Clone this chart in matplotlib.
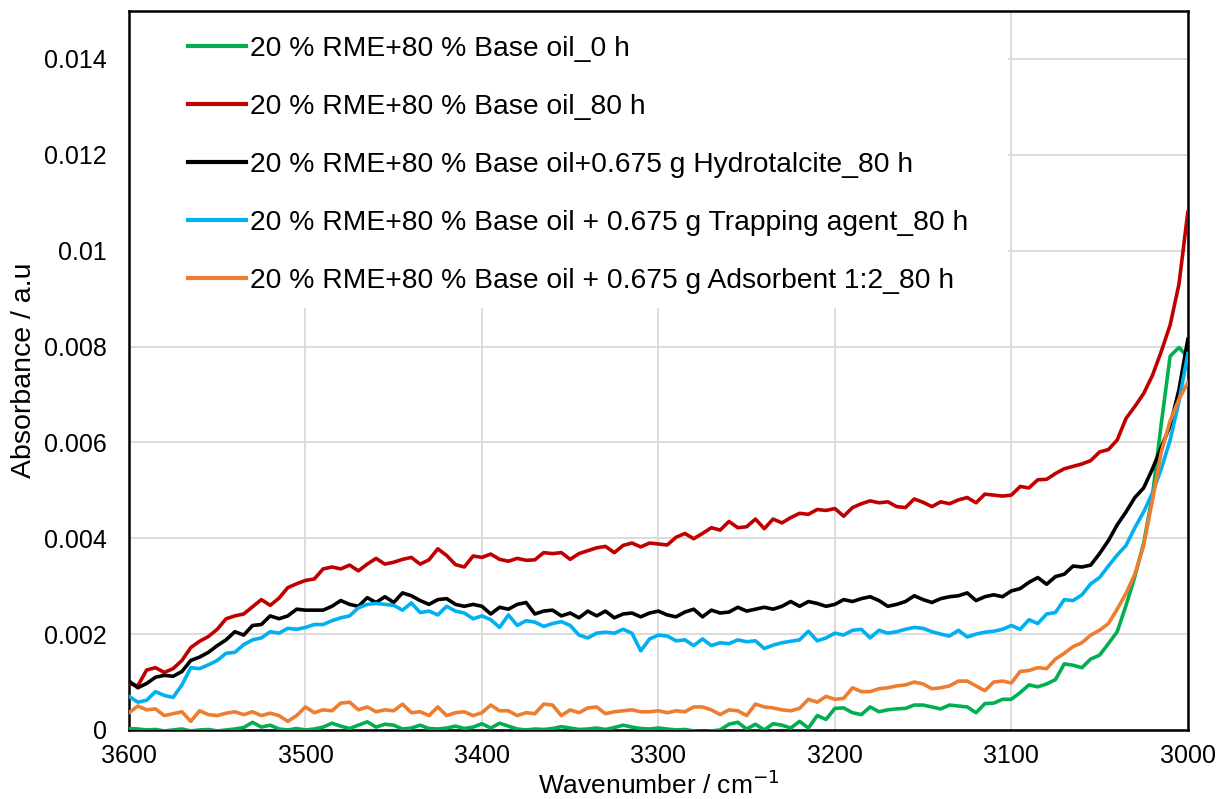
import numpy as np
import matplotlib
matplotlib.use("Agg")
import matplotlib.pyplot as plt
from matplotlib.patches import Rectangle
from matplotlib.ticker import FuncFormatter

plt.rcParams['font.family'] = ['Liberation Sans', 'DejaVu Sans']

# wavenumber grid of the exported spectra (cm-1), 5 cm-1 step
wavenumber = np.arange(3600, 2995, -5)

# absorbance values in 10^-3 a.u., rows of ten points = 50 cm-1
green_0h = np.array([
    0.03, 0.02, 0.00, 0.01, -0.02, 0.00, 0.02, -0.02, 0.00, 0.01,
    -0.02, 0.00, 0.02, 0.05, 0.16, 0.06, 0.10, 0.02, 0.00, 0.03,
    0.00, 0.02, 0.06, 0.14, 0.08, 0.03, 0.10, 0.17, 0.06, 0.12,
    0.10, 0.02, 0.04, 0.10, 0.03, 0.02, 0.04, 0.08, 0.03, 0.06,
    0.13, 0.04, 0.14, 0.08, 0.02, 0.00, 0.02, 0.01, 0.03, 0.07,
    0.04, 0.01, 0.02, 0.04, 0.01, 0.05, 0.10, 0.06, 0.03, 0.02,
    0.04, 0.02, 0.00, 0.01, -0.02, -0.05, -0.02, 0.00, 0.12, 0.16,
    0.02, 0.12, 0.00, 0.13, 0.10, 0.04, 0.18, 0.04, 0.30, 0.22,
    0.45, 0.46, 0.36, 0.32, 0.48, 0.38, 0.42, 0.44, 0.45, 0.52,
    0.52, 0.48, 0.44, 0.52, 0.50, 0.48, 0.36, 0.55, 0.56, 0.64,
    0.64, 0.78, 0.94, 0.90, 0.96, 1.05, 1.38, 1.35, 1.30, 1.48,
    1.56, 1.80, 2.05, 2.60, 3.20, 3.90, 4.90, 6.40, 7.80, 7.98,
    7.78])

red_80h = np.array([
    0.97, 0.92, 1.25, 1.30, 1.20, 1.28, 1.45, 1.72, 1.85, 1.95,
    2.10, 2.32, 2.38, 2.42, 2.57, 2.72, 2.60, 2.75, 2.97, 3.05,
    3.12, 3.15, 3.36, 3.40, 3.36, 3.44, 3.32, 3.46, 3.58, 3.46,
    3.50, 3.56, 3.60, 3.46, 3.55, 3.78, 3.64, 3.45, 3.40, 3.63,
    3.60, 3.67, 3.56, 3.52, 3.58, 3.54, 3.55, 3.70, 3.68, 3.70,
    3.56, 3.68, 3.74, 3.80, 3.83, 3.70, 3.85, 3.90, 3.82, 3.90,
    3.88, 3.86, 4.02, 4.10, 3.99, 4.10, 4.22, 4.17, 4.35, 4.22,
    4.24, 4.40, 4.20, 4.40, 4.32, 4.43, 4.52, 4.50, 4.60, 4.58,
    4.62, 4.46, 4.64, 4.72, 4.78, 4.74, 4.76, 4.66, 4.64, 4.82,
    4.75, 4.66, 4.76, 4.72, 4.80, 4.85, 4.74, 4.92, 4.90, 4.88,
    4.90, 5.08, 5.05, 5.22, 5.23, 5.35, 5.45, 5.50, 5.55, 5.62,
    5.80, 5.85, 6.05, 6.50, 6.75, 7.02, 7.40, 7.90, 8.45, 9.30,
    10.8])

black_hydrotalcite = np.array([
    1.02, 0.88, 0.97, 1.10, 1.14, 1.12, 1.22, 1.45, 1.52, 1.62,
    1.76, 1.88, 2.05, 1.98, 2.18, 2.20, 2.38, 2.32, 2.38, 2.52,
    2.50, 2.50, 2.50, 2.58, 2.70, 2.62, 2.58, 2.76, 2.66, 2.78,
    2.66, 2.86, 2.80, 2.70, 2.62, 2.72, 2.74, 2.62, 2.58, 2.62,
    2.58, 2.42, 2.56, 2.52, 2.62, 2.66, 2.42, 2.48, 2.50, 2.38,
    2.44, 2.34, 2.48, 2.38, 2.48, 2.34, 2.42, 2.44, 2.36, 2.44,
    2.48, 2.40, 2.36, 2.46, 2.52, 2.36, 2.50, 2.44, 2.46, 2.56,
    2.48, 2.52, 2.56, 2.52, 2.58, 2.68, 2.58, 2.68, 2.64, 2.58,
    2.62, 2.72, 2.68, 2.74, 2.78, 2.70, 2.58, 2.62, 2.68, 2.80,
    2.72, 2.66, 2.74, 2.78, 2.80, 2.86, 2.70, 2.78, 2.82, 2.78,
    2.90, 2.95, 3.08, 3.18, 3.04, 3.20, 3.25, 3.42, 3.40, 3.44,
    3.68, 3.95, 4.28, 4.55, 4.85, 5.05, 5.45, 5.90, 6.35, 7.10,
    8.15])

blue_trapping = np.array([
    0.70, 0.58, 0.62, 0.80, 0.72, 0.68, 0.94, 1.30, 1.28, 1.36,
    1.45, 1.60, 1.62, 1.78, 1.88, 1.92, 2.05, 2.02, 2.12, 2.10,
    2.14, 2.20, 2.20, 2.28, 2.34, 2.38, 2.55, 2.62, 2.64, 2.62,
    2.60, 2.50, 2.65, 2.45, 2.48, 2.40, 2.58, 2.48, 2.44, 2.32,
    2.38, 2.30, 2.14, 2.40, 2.18, 2.28, 2.25, 2.16, 2.22, 2.26,
    2.18, 1.98, 1.92, 2.02, 2.04, 2.02, 2.10, 2.02, 1.65, 1.90,
    1.98, 1.96, 1.86, 1.88, 1.76, 1.90, 1.76, 1.82, 1.80, 1.88,
    1.84, 1.86, 1.70, 1.77, 1.82, 1.85, 1.88, 2.06, 1.86, 1.92,
    2.02, 1.98, 2.08, 2.10, 1.92, 2.08, 2.02, 2.05, 2.10, 2.14,
    2.12, 2.05, 2.00, 1.96, 2.08, 1.94, 2.00, 2.04, 2.06, 2.10,
    2.18, 2.10, 2.30, 2.22, 2.42, 2.45, 2.72, 2.70, 2.82, 3.05,
    3.18, 3.42, 3.65, 3.85, 4.22, 4.55, 4.95, 5.45, 6.05, 6.85,
    7.85])

orange_adsorbent = np.array([
    0.36, 0.50, 0.42, 0.44, 0.30, 0.34, 0.38, 0.18, 0.40, 0.32,
    0.30, 0.35, 0.38, 0.32, 0.38, 0.30, 0.35, 0.30, 0.18, 0.30,
    0.48, 0.36, 0.42, 0.40, 0.56, 0.58, 0.42, 0.48, 0.38, 0.42,
    0.40, 0.54, 0.36, 0.38, 0.30, 0.48, 0.30, 0.36, 0.38, 0.30,
    0.36, 0.52, 0.40, 0.40, 0.30, 0.36, 0.34, 0.54, 0.52, 0.30,
    0.42, 0.36, 0.46, 0.48, 0.34, 0.38, 0.40, 0.42, 0.38, 0.38,
    0.40, 0.36, 0.40, 0.38, 0.48, 0.48, 0.42, 0.32, 0.42, 0.40,
    0.30, 0.54, 0.48, 0.46, 0.42, 0.40, 0.45, 0.64, 0.58, 0.70,
    0.64, 0.66, 0.88, 0.80, 0.80, 0.86, 0.88, 0.92, 0.94, 1.00,
    0.96, 0.86, 0.88, 0.92, 1.02, 1.02, 0.92, 0.82, 1.00, 1.02,
    0.98, 1.22, 1.24, 1.30, 1.28, 1.48, 1.60, 1.74, 1.82, 1.98,
    2.08, 2.22, 2.52, 2.85, 3.25, 3.85, 4.80, 5.80, 6.45, 6.90,
    7.25])

labels = [
    '20 % RME+80 % Base oil_0 h',
    '20 % RME+80 % Base oil_80 h',
    '20 % RME+80 % Base oil+0.675 g Hydrotalcite_80 h',
    '20 % RME+80 % Base oil + 0.675 g Trapping agent_80 h',
    '20 % RME+80 % Base oil + 0.675 g Adsorbent 1:2_80 h',
]
colors = ['#00B050', '#C00000', '#000000', '#00B0F0', '#ED7D31']
series = [green_0h, red_80h, black_hydrotalcite, blue_trapping, orange_adsorbent]

fig = plt.figure(figsize=(12.17, 7.99), dpi=100)
ax = fig.add_axes([0.106, 0.0864, 0.870, 0.8998])

for y, c, lab in zip(series, colors, labels):
    ax.plot(wavenumber, y * 1e-3, color=c, lw=2.6, label=lab, zorder=3)

ax.set_xlim(3600, 3000)
ax.set_ylim(0, 0.015)
ax.set_xticks(np.arange(3600, 2999, -100))
ax.set_yticks(np.arange(0, 0.0141, 0.002))
ax.yaxis.set_major_formatter(FuncFormatter(lambda v, p: '%g' % round(v, 4)))
ax.grid(True, color='#d9d9d9', lw=1.3)
ax.set_axisbelow(True)
ax.tick_params(length=0, labelsize=18)
ax.tick_params(axis='y', pad=16)
ax.tick_params(axis='x', pad=10)
for s in ax.spines.values():
    s.set_linewidth(1.8)
    s.set_color('black')

ax.set_xlabel('Wavenumber / cm$^{-1}$', fontsize=19, labelpad=2)
ax.set_ylabel('Absorbance / a.u', fontsize=20.5, labelpad=5)

# white block behind the legend hides the grid in the upper left
ax.add_patch(Rectangle((0, 0.587), 0.830, 0.413, transform=ax.transAxes,
                       facecolor='white', edgecolor='none', zorder=1))

leg = ax.legend(loc='upper left', bbox_to_anchor=(0.0557, 0.965), fontsize=20.3,
                frameon=False, handlelength=2.05, handletextpad=0.14,
                labelspacing=1.135, borderpad=0, borderaxespad=0)
for h in leg.get_lines():
    h.set_linewidth(3)

fig.savefig('out.png', dpi=100)
